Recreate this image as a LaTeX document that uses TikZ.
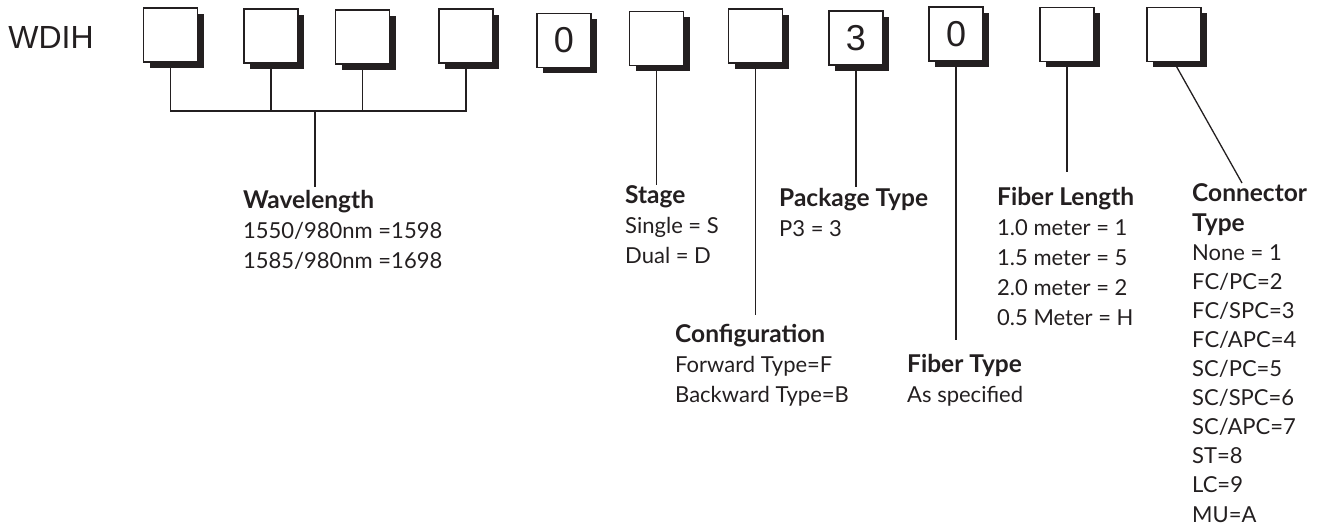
\documentclass[tikz,border=0pt]{standalone}
\usepackage{fontspec}
\setmainfont{Lato}
\newfontfamily\arialfont{Liberation Sans}
\usetikzlibrary{shadows}
\definecolor{inkgray}{HTML}{231F20}

\newcommand{\codehead}[1]{{\bfseries\fontsize{24.5}{30}\selectfont #1}}

\tikzset{
  digitbox/.style={draw=inkgray, fill=white, line width=1.2pt, minimum width=54pt, minimum height=54pt, inner sep=0pt,
    font=\arialfont\fontsize{36}{36}\selectfont, text=inkgray,
    drop shadow={shadow xshift=6pt, shadow yshift=-6pt, fill=inkgray, opacity=1}},
  % placed by the baseline of the last line
  codelabel/.style={anchor=base west, inner sep=0pt, align=left, text=inkgray, font=\fontsize{22}{30}\selectfont},
  stem/.style={draw=inkgray, line width=1.3pt}
}

\begin{document}
\begin{tikzpicture}[x=1pt, y=-1pt]
\useasboundingbox (0,0) rectangle (1328,527);

% Part number
\node[font=\arialfont\fontsize{32}{32}\selectfont, text=inkgray] (prefix) at (51,37) {WDIH};

\node[digitbox] (b1) at (170.5,35) {};
\node[digitbox] (b2) at (271,36) {};
\node[digitbox] (b3) at (362.5,37) {};
\node[digitbox] (b4) at (466,36) {};
\node[digitbox] (b5) at (564,40.5) {0};
\node[digitbox] (b6) at (656.5,38.5) {};
\node[digitbox] (b7) at (755.5,36) {};
\node[digitbox] (b8) at (856,38) {3};
\node[digitbox] (b9) at (956,34) {0};
\node[digitbox] (b10) at (1067,34.5) {};
\node[digitbox] (b11) at (1174,34.5) {};

% Code descriptions
\node[codelabel] (wave) at (243,268) {\codehead{Wavelength}\\1550/980nm =1598\\1585/980nm =1698};
\node[codelabel] (stage) at (625,263) {\codehead{Stage}\\Single = S\\Dual = D};
\node[codelabel] (config) at (675,402) {\codehead{Configuration}\\Forward Type=F\\Backward Type=B};
\node[codelabel] (pkg) at (779,236) {\codehead{Package Type}\\P3 = 3};
\node[codelabel] (fibtype) at (907,402) {\codehead{Fiber Type}\\As specified};
\node[codelabel] (fiblen) at (997,325) {\codehead{Fiber Length}\\1.0 meter = 1\\1.5 meter = 5\\2.0 meter = 2\\0.5 Meter = H};
\node[codelabel, font=\fontsize{22}{29.1}\selectfont] (conn) at (1192,522) {\codehead{Connector}\\\codehead{Type}\\None = 1\\FC/PC=2\\FC/SPC=3\\FC/APC=4\\SC/PC=5\\SC/SPC=6\\SC/APC=7\\ST=8\\LC=9\\MU=A};

% Stem ends
\coordinate (wavejoin) at (315,111);
\coordinate (waveend) at (315,187);
\coordinate (stageend) at (0,185);
\coordinate (configend) at (0,315);
\coordinate (pkgend) at (0,187);
\coordinate (fibtypeend) at (0,340);
\coordinate (fiblenend) at (0,172);
\coordinate (connend) at (1242,183);

% Leader lines
\draw[stem] (b1.south) -- (b1.south |- wavejoin) -- (b4.south |- wavejoin) -- (b4.south);
\draw[stem] (b2.south) -- (b2.south |- wavejoin);
\draw[stem] (b3.south) -- (b3.south |- wavejoin);
\draw[stem] (wavejoin) -- (waveend);
\draw[stem] (b6.south) -- (b6.south |- stageend);
\draw[stem] (b7.south) -- (b7.south |- configend);
\draw[stem] (b8.south) -- (b8.south |- pkgend);
\draw[stem] (b9.south) -- (b9.south |- fibtypeend);
\draw[stem] (b10.south) -- (b10.south |- fiblenend);
\draw[stem] (b11.south) -- (connend);

\end{tikzpicture}
\end{document}
